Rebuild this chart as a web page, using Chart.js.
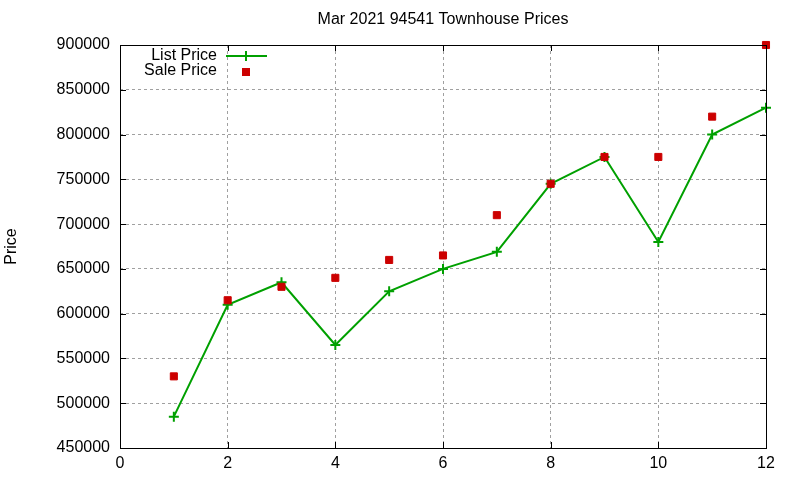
<!DOCTYPE html>
<html>
<head>
<meta charset="utf-8">
<script src="https://cdn.jsdelivr.net/npm/chart.js@4"></script>
<style>
  html, body { margin: 0; padding: 0; background: #fff; }
  #wrap { width: 800px; height: 480px; }
</style>
</head>
<body>
<div id="wrap"><canvas id="grafico" width="800" height="480"></canvas></div>
<script>
const months = [1, 2, 3, 4, 5, 6, 7, 8, 9, 10, 11, 12];
const listPrice = [485000, 610000, 635000, 565000, 625000, 650000, 669000, 745000, 775000, 680000, 800000, 830000];
const salePrice = [530000, 615000, 630000, 640000, 660000, 665000, 710000, 745000, 775000, 775000, 820000, 900000];
const titulo = "Mar 2021 94541 Townhouse Prices";

const verde = "#00a000";
const rojo = "#cc0000";
const fuente = "'Liberation Sans', Arial, sans-serif";

// título centrado sobre el área del gráfico
const tituloPlugin = {
  id: "tituloPlugin",
  afterDraw(chart) {
    const { ctx, chartArea: a } = chart;
    ctx.save();
    ctx.font = "16px " + fuente;
    ctx.fillStyle = "#000";
    ctx.textAlign = "center";
    ctx.textBaseline = "middle";
    ctx.fillText(titulo, (a.left + a.right) / 2, 20);
    ctx.restore();
  }
};

// caja negra y marcas hacia dentro, como gnuplot
const marco = {
  id: "marco",
  afterDatasetsDraw(chart) {
    const { ctx, chartArea: a, scales } = chart;
    ctx.save();
    ctx.strokeStyle = "#000";
    ctx.lineWidth = 1;
    const t = 6;
    ctx.beginPath();
    scales.x.ticks.forEach(tk => {
      const px = Math.round(scales.x.getPixelForValue(tk.value)) + 0.5;
      ctx.moveTo(px, a.bottom); ctx.lineTo(px, a.bottom - t);
      ctx.moveTo(px, a.top); ctx.lineTo(px, a.top + t);
    });
    scales.y.ticks.forEach(tk => {
      const py = Math.round(scales.y.getPixelForValue(tk.value)) + 0.5;
      ctx.moveTo(a.left, py); ctx.lineTo(a.left + t, py);
      ctx.moveTo(a.right, py); ctx.lineTo(a.right - t, py);
    });
    ctx.stroke();
    ctx.strokeRect(Math.round(a.left) + 0.5, Math.round(a.top) + 0.5,
      Math.round(a.right - a.left), Math.round(a.bottom - a.top));
    ctx.restore();
  }
};

// leyenda dentro del gráfico, texto a la izquierda de la muestra
const leyenda = {
  id: "leyenda",
  afterDraw(chart) {
    const { ctx } = chart;
    const ds = chart.data.datasets;
    ctx.save();
    ctx.font = "16px " + fuente;
    ctx.fillStyle = "#000";
    ctx.textAlign = "right";
    ctx.textBaseline = "middle";
    const xt = 217, xm = 246;
    const filas = [56, 71];
    // List Price
    ctx.fillText(ds[1].label, xt, filas[0]);
    ctx.strokeStyle = verde;
    ctx.lineWidth = 2;
    ctx.beginPath();
    ctx.moveTo(226, filas[0]); ctx.lineTo(267, filas[0]);
    ctx.moveTo(xm, filas[0] - 5); ctx.lineTo(xm, filas[0] + 5);
    ctx.stroke();
    // Sale Price
    ctx.fillText(ds[0].label, xt, filas[1]);
    ctx.fillStyle = rojo;
    ctx.fillRect(xm - 4, filas[1] - 3, 8, 8);
    ctx.restore();
  }
};

const ctx = document.getElementById("grafico").getContext("2d");

new Chart(ctx, {
  type: "line",
  data: {
    datasets: [
      {
        label: "Sale Price",
        data: months.map((m, i) => ({ x: m, y: salePrice[i] })),
        showLine: false,
        pointStyle: "rect",
        pointRadius: 5,
        pointBackgroundColor: rojo,
        pointBorderColor: rojo,
        pointBorderWidth: 1,
        borderColor: rojo,
        backgroundColor: rojo,
        clip: false,
        order: 0
      },
      {
        label: "List Price",
        data: months.map((m, i) => ({ x: m, y: listPrice[i] })),
        borderColor: verde,
        borderWidth: 2,
        pointStyle: "cross",
        pointRadius: 5,
        pointBorderColor: verde,
        pointBorderWidth: 2,
        tension: 0,
        fill: false,
        clip: false,
        order: 1
      }
    ]
  },
  options: {
    responsive: false,
    animation: false,
    events: [],
    layout: { padding: { left: 0, right: 34, top: 45, bottom: 0 } },
    plugins: {
      legend: { display: false },
      tooltip: { enabled: false },
      title: { display: false }
    },
    scales: {
      x: {
        type: "linear",
        min: 0,
        max: 12,
        ticks: { stepSize: 2, color: "#000", padding: 6, font: { family: fuente, size: 16 } },
        grid: { color: "#a0a0a0", lineWidth: 1, drawTicks: false },
        border: { display: false, dash: [3, 3] },
        afterFit: s => { s.height = 32; }
      },
      y: {
        min: 450000,
        max: 900000,
        ticks: {
          stepSize: 50000,
          color: "#000",
          padding: 10,
          font: { family: fuente, size: 16 },
          callback: v => String(v)
        },
        grid: { color: "#a0a0a0", lineWidth: 1, drawTicks: false },
        border: { display: false, dash: [3, 3] },
        title: {
          display: true,
          text: "Price",
          color: "#000",
          font: { family: fuente, size: 16 },
          padding: { top: 2, bottom: 0 }
        },
        afterFit: s => { s.width = 120; }
      }
    }
  },
  plugins: [marco, leyenda, tituloPlugin]
});
</script>
</body>
</html>
